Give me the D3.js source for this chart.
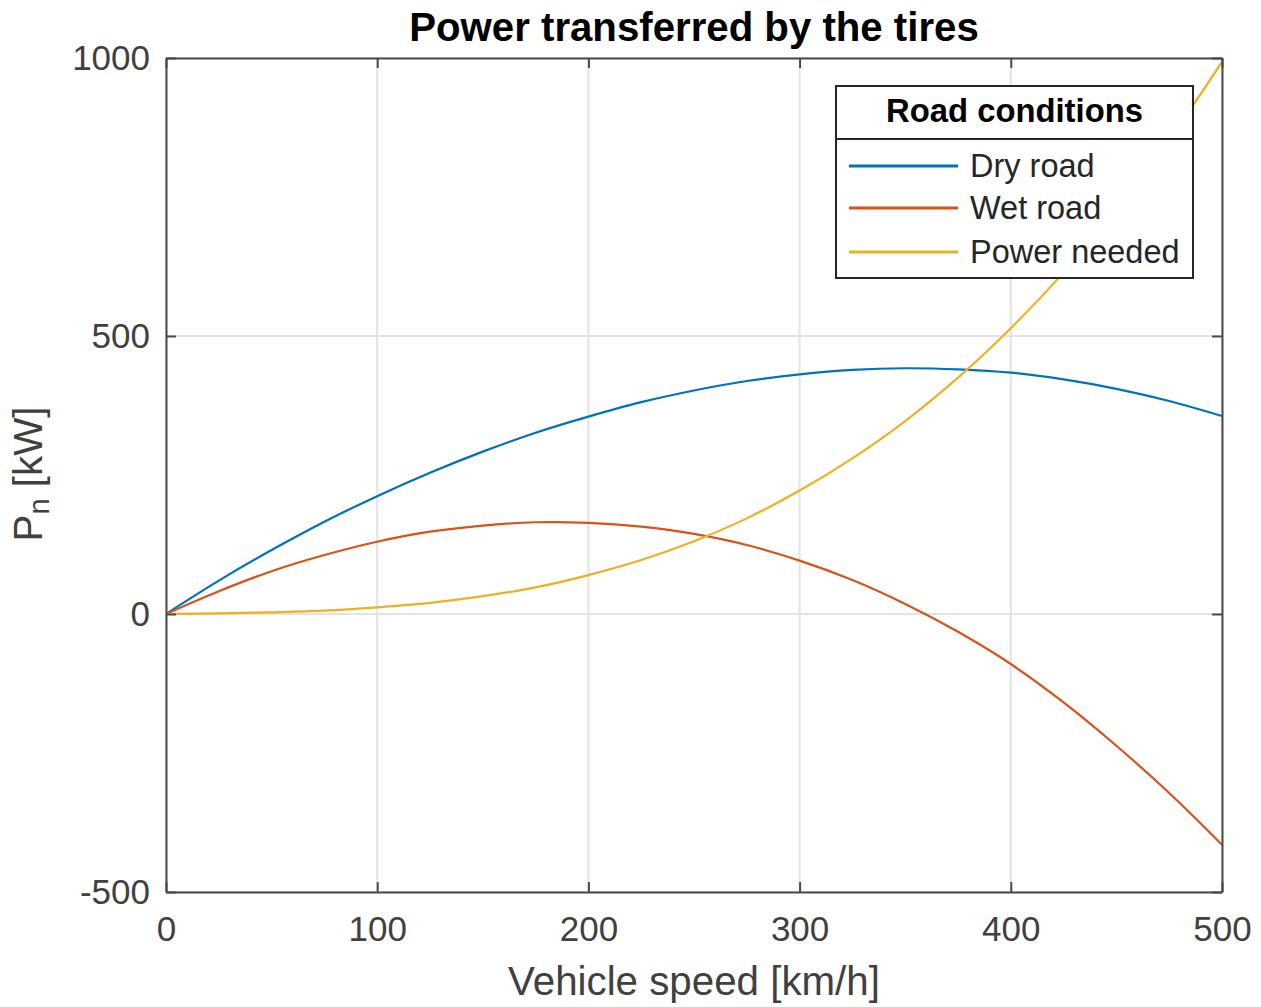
<!DOCTYPE html>
<html>
<head>
<meta charset="utf-8">
<script src="https://cdn.jsdelivr.net/npm/d3@7"></script>
<style>
  body { margin: 0; background: #fff; }
  text { font-family: "Liberation Sans", Arial, Helvetica, sans-serif; }
</style>
</head>
<body>
<svg id="chart" width="1261" height="1007"></svg>
<script>
// values (kW against km/h)
var speeds = [0, 25, 50, 75, 100, 125, 150, 175, 200, 225, 250, 275, 300, 325, 350, 375, 400, 425, 450, 475, 500];
var dryRoad = [0, 60, 115, 166, 212, 254, 292, 326, 355, 381, 402, 419, 431, 439, 442, 440, 434, 422, 405, 383, 356];
var wetRoad = [0, 41, 77, 106, 130, 148, 159, 165, 164, 157, 144, 124, 96, 61, 18, -32, -90, -159, -237, -322, -415];
var powerNeeded = [0, 1, 3, 6, 12, 20, 32, 48, 70, 97, 131, 172, 222, 280, 347, 425, 514, 614, 727, 853, 993];

var seriesNames = ["Dry road", "Wet road", "Power needed"];
var seriesColors = ["#0072BD", "#D95319", "#EDB120"];
var xTicks = [0, 100, 200, 300, 400, 500];
var yTicks = [-500, 0, 500, 1000];

var svg = d3.select("#chart");
var plotLeft = 166, plotRight = 1222, plotTop = 58, plotBottom = 892;
var axisColor = "#4a4a4a";
var textColor = "#404040";

var x = d3.scaleLinear().domain([0, 500]).range([plotLeft, plotRight]);
var y = d3.scaleLinear().domain([-500, 1000]).range([plotBottom, plotTop]);
var plainFormat = function (d) { return String(d); };

// grid
var grid = svg.append("g");
grid.selectAll(".gx")
    .data(xTicks)
    .enter()
    .append("line")
    .attr("x1", function (d) { return x(d); })
    .attr("x2", function (d) { return x(d); })
    .attr("y1", plotTop)
    .attr("y2", plotBottom)
    .attr("stroke", "#e3e3e3")
    .attr("stroke-width", 2);
grid.selectAll(".gy")
    .data(yTicks)
    .enter()
    .append("line")
    .attr("x1", plotLeft)
    .attr("x2", plotRight)
    .attr("y1", function (d) { return y(d); })
    .attr("y2", function (d) { return y(d); })
    .attr("stroke", "#e3e3e3")
    .attr("stroke-width", 2);

// lines
svg.append("clipPath").attr("id", "plotclip")
    .append("rect")
    .attr("x", plotLeft).attr("y", plotTop)
    .attr("width", plotRight - plotLeft).attr("height", plotBottom - plotTop);

var series = [dryRoad, wetRoad, powerNeeded];
var line = d3.line()
    .x(function (d, i) { return x(speeds[i]); })
    .y(function (d) { return y(d); })
    .curve(d3.curveCatmullRom.alpha(0.5));

svg.append("g")
    .attr("clip-path", "url(#plotclip)")
    .selectAll("path")
    .data(series)
    .enter()
    .append("path")
    .attr("d", function (d) { return line(d); })
    .attr("fill", "none")
    .attr("stroke", function (d, i) { return seriesColors[i]; })
    .attr("stroke-width", 2.2);

// axes (ticks pointing in, box on all four sides)
function styleAxis(g) {
    g.select(".domain").attr("stroke", axisColor).attr("stroke-width", 2);
    g.selectAll(".tick line").attr("stroke", axisColor).attr("stroke-width", 2);
    g.selectAll(".tick text")
        .attr("fill", textColor)
        .style("font-size", "35px")
        .style("font-family", "\"Liberation Sans\", Arial, Helvetica, sans-serif");
}

svg.append("g")
    .attr("transform", "translate(0," + plotBottom + ")")
    .call(d3.axisBottom(x).tickValues(xTicks).tickFormat(plainFormat).tickSizeInner(-10).tickSizeOuter(0).tickPadding(24))
    .call(styleAxis);
svg.append("g")
    .attr("transform", "translate(" + plotLeft + ",0)")
    .call(d3.axisLeft(y).tickValues(yTicks).tickFormat(plainFormat).tickSizeInner(-10).tickSizeOuter(0).tickPadding(16))
    .call(styleAxis);
svg.append("g")
    .attr("transform", "translate(0," + plotTop + ")")
    .call(d3.axisTop(x).tickValues(xTicks).tickSizeInner(-10).tickSizeOuter(0).tickFormat(""))
    .call(styleAxis);
svg.append("g")
    .attr("transform", "translate(" + plotRight + ",0)")
    .call(d3.axisRight(y).tickValues(yTicks).tickSizeInner(-10).tickSizeOuter(0).tickFormat(""))
    .call(styleAxis);

// title and labels
svg.append("text")
    .attr("x", (plotLeft + plotRight) / 2)
    .attr("y", 41)
    .attr("text-anchor", "middle")
    .attr("font-weight", "bold")
    .attr("font-size", 40.2)
    .attr("fill", "#000")
    .text("Power transferred by the tires");

svg.append("text")
    .attr("x", (plotLeft + plotRight) / 2)
    .attr("y", 995)
    .attr("text-anchor", "middle")
    .attr("font-size", 40.3)
    .attr("fill", textColor)
    .text("Vehicle speed [km/h]");

var ylab = svg.append("text")
    .attr("transform", "translate(42," + 474 + ") rotate(-90)")
    .attr("text-anchor", "middle")
    .attr("font-size", 40.3)
    .attr("fill", textColor);
ylab.append("tspan").text("P");
ylab.append("tspan").attr("font-size", 29).attr("dy", 7).text("n");
ylab.append("tspan").attr("dy", -7).text(" [kW]");

// legend
var lx = 836, ly = 86, lw = 357, lh = 192;
var legend = svg.append("g");
legend.append("rect")
    .attr("x", lx).attr("y", ly)
    .attr("width", lw).attr("height", lh)
    .attr("fill", "#fff")
    .attr("stroke", "#262626")
    .attr("stroke-width", 2);
legend.append("line")
    .attr("x1", lx).attr("x2", lx + lw)
    .attr("y1", 139).attr("y2", 139)
    .attr("stroke", "#262626")
    .attr("stroke-width", 2);
legend.append("text")
    .attr("x", lx + lw / 2)
    .attr("y", 122)
    .attr("text-anchor", "middle")
    .attr("font-weight", "bold")
    .attr("font-size", 32.8)
    .attr("fill", "#000")
    .text("Road conditions");

var rowY = [166, 208, 252];
var rows = legend.selectAll(".row")
    .data(seriesNames)
    .enter()
    .append("g");
rows.append("line")
    .attr("x1", 849).attr("x2", 958)
    .attr("y1", function (d, i) { return rowY[i]; })
    .attr("y2", function (d, i) { return rowY[i]; })
    .attr("stroke", function (d, i) { return seriesColors[i]; })
    .attr("stroke-width", 3);
rows.append("text")
    .attr("x", 970)
    .attr("y", function (d, i) { return rowY[i]; })
    .attr("dy", "0.35em")
    .attr("font-size", 32.5)
    .attr("fill", "#262626")
    .text(function (d) { return d; });
</script>
</body>
</html>
